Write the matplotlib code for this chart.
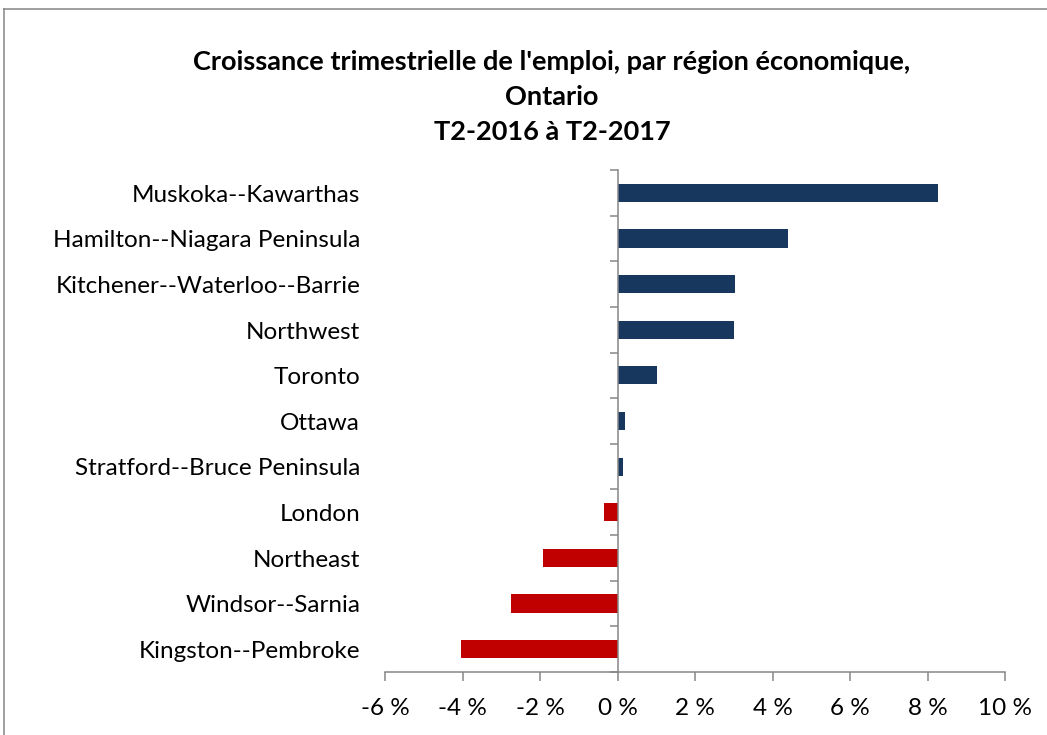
import numpy as np
import matplotlib
matplotlib.use("Agg")
import matplotlib.pyplot as plt
from matplotlib.lines import Line2D

# data (percent change, Q2-2016 to Q2-2017)
regions = ["Muskoka--Kawarthas", "Hamilton--Niagara Peninsula",
           "Kitchener--Waterloo--Barrie", "Northwest", "Toronto", "Ottawa",
           "Stratford--Bruce Peninsula", "London", "Northeast",
           "Windsor--Sarnia", "Kingston--Pembroke"]
growth = [8.27, 4.40, 3.04, 3.00, 1.02, 0.19, 0.14, -0.35, -1.93, -2.75, -4.04]
xticks = [-6, -4, -2, 0, 2, 4, 6, 8, 10]
title = ("Croissance trimestrielle de l'emploi, par région économique,\n"
         "Ontario\nT2-2016 à T2-2017")

navy = "#17375E"
red = "#C00000"
grey = "#868686"

plt.rcParams["font.family"] = ["Lato", "DejaVu Sans"]

fig = plt.figure(figsize=(10.47, 7.35), dpi=100)
ax = fig.add_axes([385 / 1047, 63 / 735, 620 / 1047, 502 / 735])

y = np.arange(len(regions))[::-1]
colors = [navy if v >= 0 else red for v in growth]
ax.barh(y, growth, height=0.4, color=colors, edgecolor="none")

ax.set_xlim(-6, 10)
ax.set_ylim(-0.5, len(regions) - 0.5)
ax.set_xticks(xticks)
ax.set_xticklabels([f"{t} %" for t in xticks], fontsize=17.5)
ax.tick_params(axis="x", direction="out", length=6.5, width=1.1,
               color=grey, pad=12)

# vertical axis sits at zero, ticks between categories
ax.spines["left"].set_position(("data", 0))
ax.set_yticks(np.arange(len(regions) + 1) - 0.5)
ax.set_yticklabels([])
ax.tick_params(axis="y", direction="out", length=6, width=1.1, color=grey)
for name in ["top", "right"]:
    ax.spines[name].set_visible(False)
for name in ["left", "bottom"]:
    ax.spines[name].set_color(grey)
    ax.spines[name].set_linewidth(1.1)

for yi, name in zip(y, regions):
    ax.text(-0.04, yi - 0.05, name, transform=ax.get_yaxis_transform(),
            ha="right", va="center", fontsize=17.5)

fig.text(552 / 1047, 1 - 50 / 735, title, ha="center", va="top",
         fontsize=19.5, fontweight="bold", linespacing=1.55)

# chart frame (cropped at right and bottom in the reference)
fig.add_artist(Line2D([4 / 1047, 4 / 1047], [0, 1 - 9 / 735],
                      transform=fig.transFigure, color=grey, lw=1.1))
fig.add_artist(Line2D([4 / 1047, 1], [1 - 9 / 735, 1 - 9 / 735],
                      transform=fig.transFigure, color=grey, lw=1.1))

fig.savefig("out.png", dpi=100)
